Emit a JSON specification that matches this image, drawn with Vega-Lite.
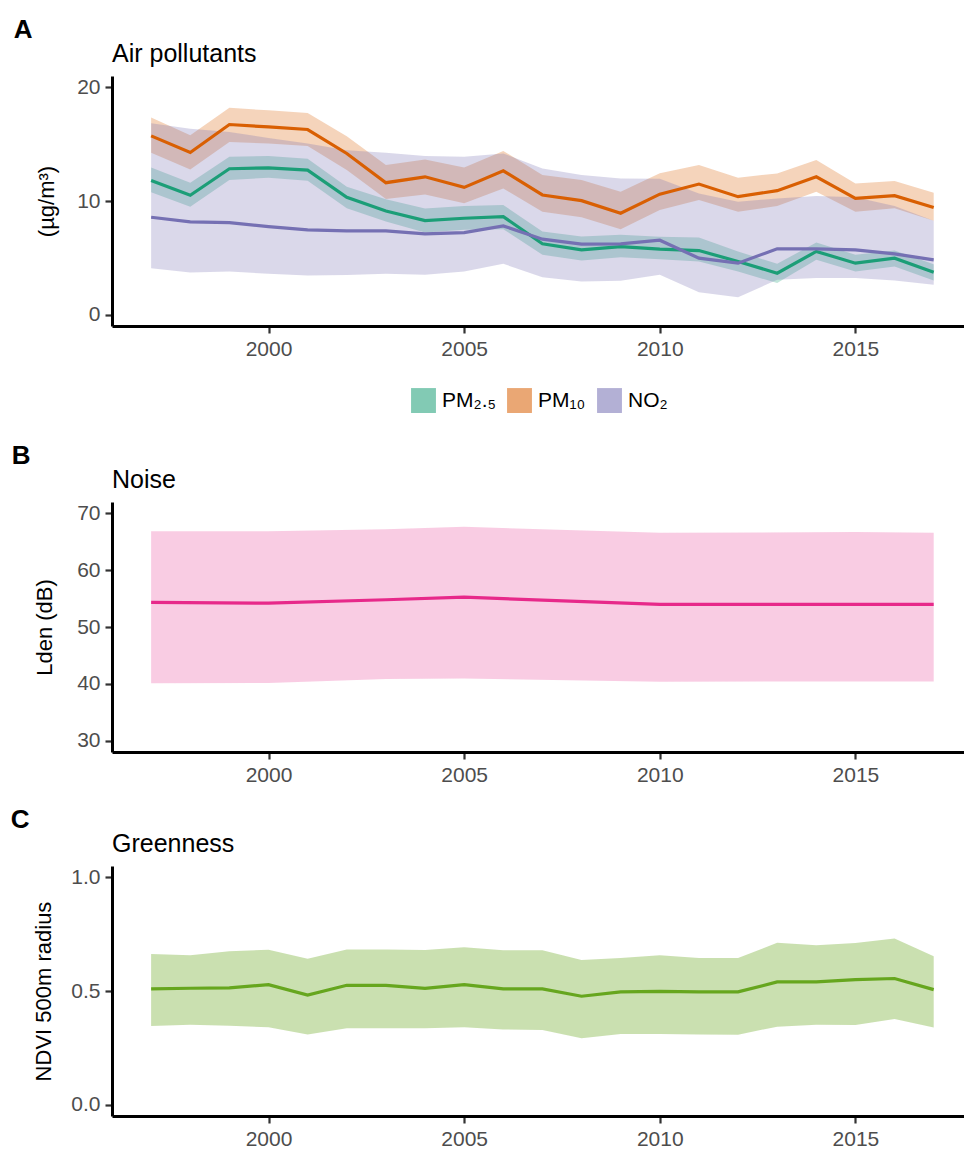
{
  "$schema": "https://vega.github.io/schema/vega-lite/v6.json",
  "background": "white",
  "padding": {"left": 10, "top": 17, "right": 0, "bottom": 0},
  "config": {
    "font": "Liberation Sans",
    "view": {"stroke": null},
    "axis": {"domainColor": "black", "domainWidth": 3, "tickColor": "#333333", "tickWidth": 2.2, "tickSize": 7, "labelColor": "#4d4d4d", "labelFontSize": 21, "labelPadding": 5, "titleFontSize": 22, "titleFontWeight": "normal", "titleColor": "black", "grid": false, "labelFont": "Liberation Sans", "titleFont": "Liberation Sans"},
    "title": {"font": "Liberation Sans", "color": "black", "anchor": "start"},
    "concat": {"spacing": 22}
  },
  "datasets": {
    "air": [
      {"pollutant": "PM2.5", "year": 1997, "mean": 11.81, "lo": 10.76, "hi": 12.95},
      {"pollutant": "PM2.5", "year": 1998, "mean": 10.5, "lo": 9.5, "hi": 11.61},
      {"pollutant": "PM2.5", "year": 1999, "mean": 12.84, "lo": 11.84, "hi": 13.89},
      {"pollutant": "PM2.5", "year": 2000, "mean": 12.92, "lo": 12.05, "hi": 13.95},
      {"pollutant": "PM2.5", "year": 2001, "mean": 12.72, "lo": 11.78, "hi": 13.71},
      {"pollutant": "PM2.5", "year": 2002, "mean": 10.32, "lo": 9.36, "hi": 11.26},
      {"pollutant": "PM2.5", "year": 2003, "mean": 9.12, "lo": 8.19, "hi": 10.15},
      {"pollutant": "PM2.5", "year": 2004, "mean": 8.27, "lo": 7.22, "hi": 9.33},
      {"pollutant": "PM2.5", "year": 2005, "mean": 8.48, "lo": 7.46, "hi": 9.56},
      {"pollutant": "PM2.5", "year": 2006, "mean": 8.63, "lo": 7.52, "hi": 9.65},
      {"pollutant": "PM2.5", "year": 2007, "mean": 6.23, "lo": 5.26, "hi": 7.31},
      {"pollutant": "PM2.5", "year": 2008, "mean": 5.7, "lo": 4.77, "hi": 6.87},
      {"pollutant": "PM2.5", "year": 2009, "mean": 5.99, "lo": 5.06, "hi": 7.02},
      {"pollutant": "PM2.5", "year": 2010, "mean": 5.76, "lo": 4.87, "hi": 6.86},
      {"pollutant": "PM2.5", "year": 2011, "mean": 5.64, "lo": 4.68, "hi": 6.78},
      {"pollutant": "PM2.5", "year": 2012, "mean": 4.68, "lo": 3.8, "hi": 5.56},
      {"pollutant": "PM2.5", "year": 2013, "mean": 3.65, "lo": 2.78, "hi": 4.47},
      {"pollutant": "PM2.5", "year": 2014, "mean": 5.56, "lo": 4.82, "hi": 6.35},
      {"pollutant": "PM2.5", "year": 2015, "mean": 4.53, "lo": 3.8, "hi": 5.26},
      {"pollutant": "PM2.5", "year": 2016, "mean": 4.97, "lo": 4.24, "hi": 5.64},
      {"pollutant": "PM2.5", "year": 2017, "mean": 3.74, "lo": 3.01, "hi": 4.44},
      {"pollutant": "PM10", "year": 1997, "mean": 15.73, "lo": 14.24, "hi": 17.34},
      {"pollutant": "PM10", "year": 1998, "mean": 14.27, "lo": 12.78, "hi": 15.79},
      {"pollutant": "PM10", "year": 1999, "mean": 16.73, "lo": 15.2, "hi": 18.2},
      {"pollutant": "PM10", "year": 2000, "mean": 16.52, "lo": 15.06, "hi": 17.98},
      {"pollutant": "PM10", "year": 2001, "mean": 16.29, "lo": 14.85, "hi": 17.75},
      {"pollutant": "PM10", "year": 2002, "mean": 14.18, "lo": 12.72, "hi": 15.7},
      {"pollutant": "PM10", "year": 2003, "mean": 11.61, "lo": 10.18, "hi": 13.16},
      {"pollutant": "PM10", "year": 2004, "mean": 12.13, "lo": 10.58, "hi": 13.65},
      {"pollutant": "PM10", "year": 2005, "mean": 11.2, "lo": 9.8, "hi": 12.95},
      {"pollutant": "PM10", "year": 2006, "mean": 12.66, "lo": 11.11, "hi": 14.41},
      {"pollutant": "PM10", "year": 2007, "mean": 10.53, "lo": 9.06, "hi": 12.28},
      {"pollutant": "PM10", "year": 2008, "mean": 10.03, "lo": 8.57, "hi": 11.84},
      {"pollutant": "PM10", "year": 2009, "mean": 8.92, "lo": 7.52, "hi": 10.82},
      {"pollutant": "PM10", "year": 2010, "mean": 10.6, "lo": 9.21, "hi": 12.45},
      {"pollutant": "PM10", "year": 2011, "mean": 11.49, "lo": 10.09, "hi": 13.16},
      {"pollutant": "PM10", "year": 2012, "mean": 10.38, "lo": 9.06, "hi": 12.05},
      {"pollutant": "PM10", "year": 2013, "mean": 10.91, "lo": 9.56, "hi": 12.43},
      {"pollutant": "PM10", "year": 2014, "mean": 12.13, "lo": 10.82, "hi": 13.6},
      {"pollutant": "PM10", "year": 2015, "mean": 10.23, "lo": 9.06, "hi": 11.55},
      {"pollutant": "PM10", "year": 2016, "mean": 10.47, "lo": 9.36, "hi": 11.75},
      {"pollutant": "PM10", "year": 2017, "mean": 9.42, "lo": 8.27, "hi": 10.73},
      {"pollutant": "NO2", "year": 1997, "mean": 8.57, "lo": 4.09, "hi": 16.85},
      {"pollutant": "NO2", "year": 1998, "mean": 8.16, "lo": 3.71, "hi": 16.36},
      {"pollutant": "NO2", "year": 1999, "mean": 8.1, "lo": 3.8, "hi": 16.08},
      {"pollutant": "NO2", "year": 2000, "mean": 7.75, "lo": 3.6, "hi": 15.55},
      {"pollutant": "NO2", "year": 2001, "mean": 7.46, "lo": 3.45, "hi": 15.06},
      {"pollutant": "NO2", "year": 2002, "mean": 7.37, "lo": 3.48, "hi": 14.47},
      {"pollutant": "NO2", "year": 2003, "mean": 7.37, "lo": 3.6, "hi": 14.24},
      {"pollutant": "NO2", "year": 2004, "mean": 7.1, "lo": 3.51, "hi": 13.95},
      {"pollutant": "NO2", "year": 2005, "mean": 7.22, "lo": 3.8, "hi": 13.89},
      {"pollutant": "NO2", "year": 2006, "mean": 7.81, "lo": 4.47, "hi": 14.18},
      {"pollutant": "NO2", "year": 2007, "mean": 6.64, "lo": 3.3, "hi": 12.87},
      {"pollutant": "NO2", "year": 2008, "mean": 6.2, "lo": 2.92, "hi": 12.28},
      {"pollutant": "NO2", "year": 2009, "mean": 6.23, "lo": 2.98, "hi": 11.99},
      {"pollutant": "NO2", "year": 2010, "mean": 6.55, "lo": 3.51, "hi": 11.95},
      {"pollutant": "NO2", "year": 2011, "mean": 4.97, "lo": 1.96, "hi": 10.67},
      {"pollutant": "NO2", "year": 2012, "mean": 4.53, "lo": 1.52, "hi": 9.94},
      {"pollutant": "NO2", "year": 2013, "mean": 5.79, "lo": 3.07, "hi": 10.23},
      {"pollutant": "NO2", "year": 2014, "mean": 5.79, "lo": 3.22, "hi": 10.44},
      {"pollutant": "NO2", "year": 2015, "mean": 5.7, "lo": 3.22, "hi": 10.32},
      {"pollutant": "NO2", "year": 2016, "mean": 5.35, "lo": 3.01, "hi": 9.56},
      {"pollutant": "NO2", "year": 2017, "mean": 4.82, "lo": 2.63, "hi": 8.27}
    ],
    "noise": [
      {"year": 1997, "mean": 54.33, "lo": 40.08, "hi": 66.87},
      {"year": 2000, "mean": 54.2, "lo": 40.14, "hi": 66.87},
      {"year": 2003, "mean": 54.8, "lo": 40.84, "hi": 67.2},
      {"year": 2005, "mean": 55.25, "lo": 40.95, "hi": 67.63},
      {"year": 2010, "mean": 53.97, "lo": 40.37, "hi": 66.58},
      {"year": 2015, "mean": 53.97, "lo": 40.43, "hi": 66.7},
      {"year": 2017, "mean": 53.97, "lo": 40.43, "hi": 66.58}
    ],
    "green": [
      {"year": 1997, "mean": 0.509, "lo": 0.346, "hi": 0.663},
      {"year": 1998, "mean": 0.512, "lo": 0.352, "hi": 0.657},
      {"year": 1999, "mean": 0.514, "lo": 0.347, "hi": 0.675},
      {"year": 2000, "mean": 0.528, "lo": 0.34, "hi": 0.682},
      {"year": 2001, "mean": 0.482, "lo": 0.309, "hi": 0.642},
      {"year": 2002, "mean": 0.525, "lo": 0.336, "hi": 0.683},
      {"year": 2003, "mean": 0.525, "lo": 0.336, "hi": 0.683},
      {"year": 2004, "mean": 0.512, "lo": 0.336, "hi": 0.68},
      {"year": 2005, "mean": 0.528, "lo": 0.341, "hi": 0.692},
      {"year": 2006, "mean": 0.509, "lo": 0.331, "hi": 0.679},
      {"year": 2007, "mean": 0.509, "lo": 0.328, "hi": 0.679},
      {"year": 2008, "mean": 0.477, "lo": 0.292, "hi": 0.636},
      {"year": 2009, "mean": 0.496, "lo": 0.311, "hi": 0.645},
      {"year": 2010, "mean": 0.498, "lo": 0.311, "hi": 0.657},
      {"year": 2011, "mean": 0.496, "lo": 0.309, "hi": 0.645},
      {"year": 2012, "mean": 0.496, "lo": 0.308, "hi": 0.645},
      {"year": 2013, "mean": 0.54, "lo": 0.343, "hi": 0.712},
      {"year": 2014, "mean": 0.54, "lo": 0.352, "hi": 0.701},
      {"year": 2015, "mean": 0.55, "lo": 0.35, "hi": 0.711},
      {"year": 2016, "mean": 0.555, "lo": 0.377, "hi": 0.731},
      {"year": 2017, "mean": 0.506, "lo": 0.339, "hi": 0.653}
    ]
  },
  "resolve": {"scale": {"color": "independent"}, "legend": {"color": "independent"}},
  "vconcat": [
    {
      "title": {"text": "A", "anchor": "start", "frame": "bounds", "fontSize": 26, "fontWeight": "bold", "dx": -22, "offset": -1},
      "resolve": {"scale": {"color": "independent"}, "legend": {"color": "independent"}},
      "vconcat": [
        {
          "title": {"text": "Air pollutants", "anchor": "start", "frame": "group", "fontSize": 25, "fontWeight": "normal", "offset": 9},
          "width": 853,
          "height": 250,
          "data": {"name": "air"},
          "encoding": {
            "x": {"field": "year", "type": "quantitative", "scale": {"domain": [1996, 2017.8], "nice": false, "zero": false}, "axis": {"title": null, "values": [2000, 2005, 2010, 2015], "format": "d"}}
          },
          "layer": [
            {
              "mark": {"type": "area", "opacity": 0.27},
              "encoding": {
                "y": {"field": "lo", "type": "quantitative", "scale": {"domain": [-1, 21], "nice": false}, "axis": {"title": "(µg/m³)", "values": [0, 10, 20], "titlePadding": 18}},
                "y2": {"field": "hi"},
                "color": {"field": "pollutant", "type": "nominal", "scale": {"domain": ["PM2.5", "PM10", "NO2"], "range": ["#1B9E77", "#D95F02", "#7570B3"]},
                  "legend": {"title": null, "orient": "none", "legendX": 291, "legendY": 304, "padding": 8, "direction": "horizontal", "symbolType": "square", "symbolSize": 620, "symbolOpacity": 0.55, "symbolStrokeWidth": 0, "labelFontSize": 21, "labelColor": "black", "labelOffset": 6, "columnPadding": 11, "labelExpr": "datum.label == 'PM2.5' ? 'PM₂.₅' : datum.label == 'PM10' ? 'PM₁₀' : 'NO₂'"}}
              }
            },
            {
              "mark": {"type": "line", "strokeWidth": 3.2},
              "encoding": {
                "y": {"field": "mean", "type": "quantitative"},
                "color": {"field": "pollutant", "type": "nominal"}
              }
            }
          ]
        }
      ]
    },
    {
      "title": {"text": "B", "anchor": "start", "frame": "bounds", "fontSize": 26, "fontWeight": "bold", "dx": -22, "offset": -1},
      "vconcat": [
        {
          "title": {"text": "Noise", "anchor": "start", "frame": "group", "fontSize": 25, "fontWeight": "normal", "offset": 9},
          "width": 853,
          "height": 250,
          "data": {"name": "noise"},
          "encoding": {
            "x": {"field": "year", "type": "quantitative", "scale": {"domain": [1996, 2017.8], "nice": false, "zero": false}, "axis": {"title": null, "values": [2000, 2005, 2010, 2015], "format": "d"}}
          },
          "layer": [
            {
              "mark": {"type": "area", "opacity": 0.24, "color": "#E7298A"},
              "encoding": {
                "y": {"field": "lo", "type": "quantitative", "scale": {"domain": [28, 72], "nice": false, "zero": false}, "axis": {"title": "Lden (dB)", "values": [30, 40, 50, 60, 70], "titlePadding": 20}},
                "y2": {"field": "hi"}
              }
            },
            {
              "mark": {"type": "line", "strokeWidth": 3.2, "color": "#E7298A"},
              "encoding": {
                "y": {"field": "mean", "type": "quantitative"}
              }
            }
          ]
        }
      ]
    },
    {
      "title": {"text": "C", "anchor": "start", "frame": "bounds", "fontSize": 26, "fontWeight": "bold", "dx": -22, "offset": -1},
      "vconcat": [
        {
          "title": {"text": "Greenness", "anchor": "start", "frame": "group", "fontSize": 25, "fontWeight": "normal", "offset": 9},
          "width": 853,
          "height": 250,
          "data": {"name": "green"},
          "encoding": {
            "x": {"field": "year", "type": "quantitative", "scale": {"domain": [1996, 2017.8], "nice": false, "zero": false}, "axis": {"title": null, "values": [2000, 2005, 2010, 2015], "format": "d"}}
          },
          "layer": [
            {
              "mark": {"type": "area", "opacity": 0.35, "color": "#66A61E"},
              "encoding": {
                "y": {"field": "lo", "type": "quantitative", "scale": {"domain": [-0.05, 1.05], "nice": false}, "axis": {"title": "NDVI 500m radius", "values": [0, 0.5, 1], "format": ".1f", "titlePadding": 15}},
                "y2": {"field": "hi"}
              }
            },
            {
              "mark": {"type": "line", "strokeWidth": 3.2, "color": "#66A61E"},
              "encoding": {
                "y": {"field": "mean", "type": "quantitative"}
              }
            }
          ]
        }
      ]
    }
  ]
}
